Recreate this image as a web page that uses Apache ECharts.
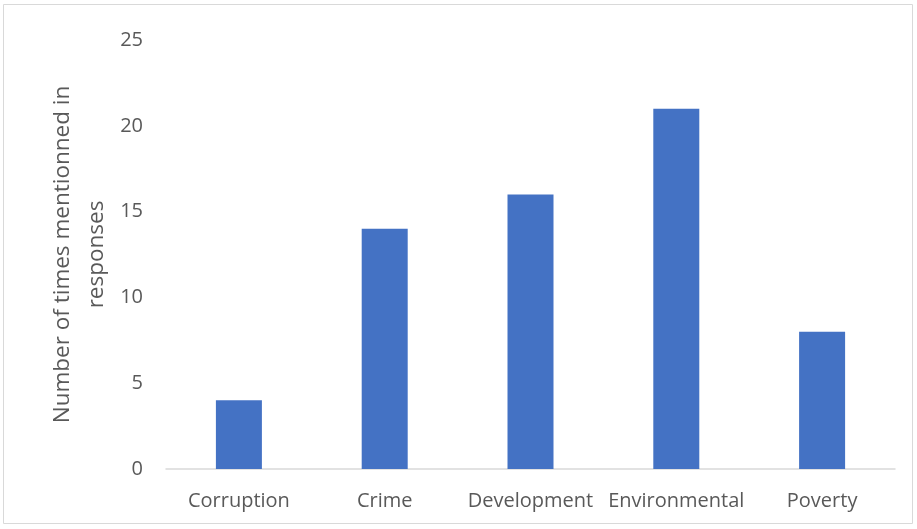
<!DOCTYPE html>
<html><head><meta charset="utf-8">
<script src="https://cdn.jsdelivr.net/npm/echarts@6/dist/echarts.min.js"></script>
<style>html,body{margin:0;padding:0;background:#fff}#c{width:917px;height:529px}</style>
</head><body><div id="c"></div>
<script>
const categories = ["Corruption", "Crime", "Development", "Environmental", "Poverty"];
const values = [4, 14, 16, 21, 8];
const yTicks = [0, 5, 10, 15, 20, 25];
const yName = "Number of times mentionned in\nresponses";

const chart = echarts.init(document.getElementById('c'));
const font = "'Open Sans', sans-serif";
chart.setOption({
  animation: false,
  graphic: [{type:'rect', shape:{x:3.5,y:4.5,width:909,height:519}, style:{fill:'none', stroke:'#d9d9d9', lineWidth:1}}],
  grid: {left:166, right:22, top:40, bottom:60},
  xAxis: {
    type:'category', data: categories,
    axisLine:{lineStyle:{color:'#d9d9d9', width:1.5}},
    axisTick:{show:false},
    axisLabel:{color:'#595959', fontFamily:font, fontSize:20, margin:22, interval:0}
  },
  yAxis: {
    type:'value', min:yTicks[0], max:yTicks[yTicks.length-1], interval:5,
    splitLine:{show:false}, axisLine:{show:false}, axisTick:{show:false},
    axisLabel:{color:'#595959', fontFamily:font, fontSize:20, margin:23},
    name: yName, nameLocation:'middle', nameGap:52, nameMoveOverlap:false,
    nameTextStyle:{color:'#595959', fontFamily:font, fontSize:22.5, lineHeight:34}
  },
  series: [{type:'bar', data: values, barWidth:46, itemStyle:{color:'#4472C4'}}]
});
</script></body></html>
